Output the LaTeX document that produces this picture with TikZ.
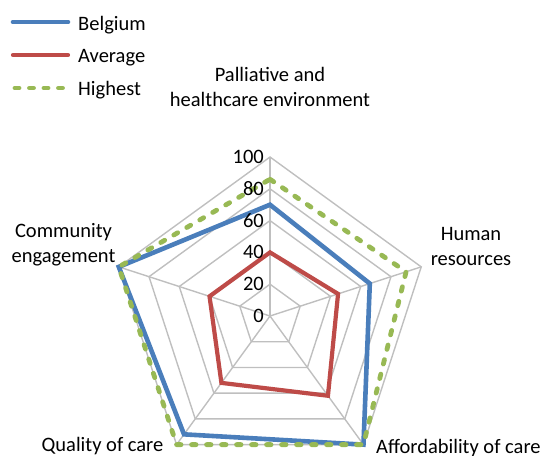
\documentclass[tikz,border=0pt]{standalone}
\usepackage{fontspec}
\setmainfont{Carlito}
\definecolor{belc}{HTML}{4A7EBB}
\definecolor{avgc}{HTML}{BE4B48}
\definecolor{hic}{HTML}{98B954}
\definecolor{gridc}{HTML}{BFBFBF}
\begin{document}
\begin{tikzpicture}[x=1pt,y=1pt,
  font=\fontsize{20.5}{24.7}\selectfont,
  gridline/.style={draw=gridc,line width=1.4},
  belline/.style={draw=belc,line width=4.6,line join=miter},
  avgline/.style={draw=avgc,line width=4.2,line join=miter},
  hiline/.style={draw=hic,line width=4.8,line cap=round,dash pattern=on 4.5 off 10.5},
  lab/.style={inner sep=0,align=center,anchor=base},
  ticklab/.style={inner sep=0,anchor=base east}]
\useasboundingbox (0,0) rectangle (543,-455);
\coordinate (c) at (270,-316);
% legend
\coordinate (l1a) at (13,-22); \coordinate (l1b) at (68,-22);
\coordinate (l2a) at (13,-55); \coordinate (l2b) at (68,-55);
\coordinate (l3a) at (15,-88); \coordinate (l3b) at (68,-88);
\draw[belline,line cap=round] (l1a) -- (l1b);
\draw[avgline,line cap=round] (l2a) -- (l2b);
\draw[hiline,dash pattern=on 4 off 10.5] (l3a) -- (l3b);
\node[inner sep=0,anchor=base west] (tbel) at (78,-30) {Belgium};
\node[inner sep=0,anchor=base west] (tavg) at (78,-62.7) {Average};
\node[inner sep=0,anchor=base west] (thi) at (78,-95) {Highest};
\begin{scope}[shift={(c)}]
  \foreach \v in {20,40,60,80,100}
    \draw[gridline] (90:{\v*1.59}) -- (18:{\v*1.59}) -- (-54:{\v*1.59}) -- (-126:{\v*1.59}) -- (162:{\v*1.59}) -- cycle;
  \foreach \a in {90,18,-54,-126,162}
    \draw[gridline] (0,0) -- (\a:159);
  % Belgium
  \draw[belline] (90:{70*1.59}) -- (18:{66*1.59}) -- (-54:{100*1.59}) -- (-126:{92*1.59}) -- (162:{100*1.59}) -- cycle;
  % Average
  \draw[avgline] (90:{40*1.59}) -- (18:{45*1.59}) -- (-54:{62*1.59}) -- (-126:{52*1.59}) -- (162:{40*1.59}) -- cycle;
  % Highest
  \draw[hiline] (90:{86*1.59}) -- (18:{90*1.59}) -- (-54:{100*1.59}) -- (-126:{100*1.59}) -- (162:{100*1.59}) -- cycle;
\end{scope}
% tick labels
\foreach \v in {0,20,40,60,80,100}
  \node[ticklab] (t\v) at (264,{-316+\v*1.59-6.5}) {\v};
% category labels
\node[lab] (cat1) at (270,-106) {Palliative and\\healthcare environment};
\node[lab] (cat2) at (471,-265) {Human\\resources};
\node[inner sep=0,anchor=base west] (cat3) at (376,-453) {Affordability of care};
\node[lab] (cat4) at (102.5,-451.7) {Quality of care};
\node[lab] (cat5) at (63.5,-262.3) {Community\\engagement};
\end{tikzpicture}
\end{document}
